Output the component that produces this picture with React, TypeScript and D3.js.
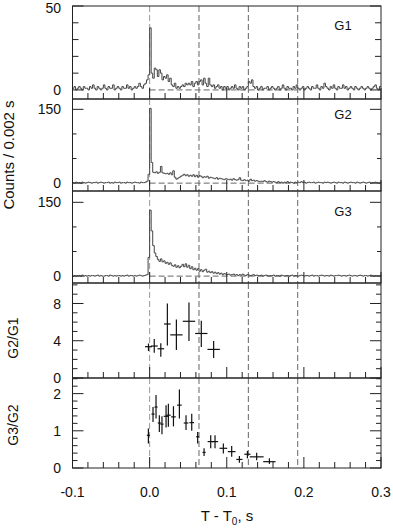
import React, { useEffect, useRef } from 'react';
import * as d3 from 'd3';

// histogram bins: 0.002 s wide, first bin starts at T - T0 = -0.1 s
const binStart = -0.1;
const binWidth = 0.002;

const g1Counts = [
  1, 2, 0, 1, 2, 1, 0, 2, 1, 1,
  0, 2, 1, 3, 1, 0, 2, 1, 0, 1,
  3, 1, 0, 2, 1, 1, 3, 0, 1, 2,
  1, 0, 2, 1, 1, 3, 1, 2, 0, 1,
  2, 1, 2, 4, 2, 1, 3, 4, 6, 9,
  37, 10, 7, 13, 12, 8, 12, 10, 6, 8,
  7, 9, 5, 7, 3, 2, 4, 1, 2, 1,
  2, 3, 2, 4, 3, 4, 3, 5, 2, 4,
  5, 3, 5, 6, 3, 7, 4, 2, 7, 3,
  2, 3, 1, 2, 3, 1, 2, 0, 2, 1,
  2, 0, 1, 2, 1, 3, 1, 0, 2, 1,
  2, 0, 1, 2, 5, 4, 6, 2, 1, 2,
  0, 1, 2, 0, 1, 1, 2, 0, 1, 2,
  1, 0, 1, 2, 0, 1, 3, 1, 0, 2,
  1, 1, 0, 2, 1, 3, 1, 0, 1, 2,
  0, 1, 2, 1, 0, 2, 1, 1, 3, 1,
  0, 2, 1, 4, 2, 1, 0, 2, 1, 3,
  1, 0, 2, 1, 1, 3, 1, 2, 0, 1,
  2, 1, 0, 2, 1, 0, 1, 2, 1, 0,
  1, 2, 1, 0, 1, 2, 3, 1, 0, 2,
];

const g2Counts = [
  1, 0, 2, 1, 1, 0, 2, 1, 0, 1,
  2, 1, 0, 1, 1, 2, 0, 1, 2, 1,
  0, 1, 1, 2, 0, 1, 0, 2, 1, 1,
  2, 0, 1, 1, 0, 2, 1, 1, 0, 1,
  2, 1, 1, 0, 2, 1, 1, 2, 4, 18,
  152, 42, 22, 21, 23, 20, 22, 34, 21, 20,
  19, 20, 18, 21, 17, 25, 12, 8, 10, 12,
  14, 16, 18, 15, 17, 14, 16, 14, 17, 13,
  16, 12, 15, 14, 11, 13, 12, 14, 10, 12,
  11, 10, 9, 11, 8, 10, 9, 8, 7, 9,
  8, 7, 8, 6, 9, 7, 6, 7, 11, 6,
  5, 7, 5, 6, 4, 8, 5, 6, 4, 5,
  4, 3, 4, 3, 5, 3, 2, 4, 3, 2,
  3, 2, 1, 3, 1, 2, 0, 2, 1, 3,
  1, 2, 1, 0, 2, 1, 2, 1, 3, 1,
  2, 0, 1, 2, 1, 1, 2, 0, 1, 2,
  1, 1, 0, 2, 1, 2, 1, 0, 1, 2,
  1, 0, 2, 1, 1, 0, 2, 1, 0, 1,
  2, 1, 1, 0, 2, 1, 0, 1, 2, 1,
  0, 1, 2, 0, 1, 1, 2, 1, 0, 1,
];

const g3Counts = [
  0, 1, 0, 1, 1, 0, 2, 0, 1, 0,
  1, 0, 1, 1, 0, 1, 2, 0, 1, 0,
  0, 1, 1, 0, 2, 1, 0, 1, 0, 1,
  1, 0, 1, 0, 1, 2, 0, 1, 1, 0,
  1, 0, 1, 2, 1, 0, 1, 2, 3, 38,
  134, 92, 62, 47, 40, 34, 30, 35, 29, 31,
  26, 28, 24, 27, 22, 20, 23, 18, 21, 17,
  20, 24, 19, 25, 18, 22, 15, 19, 13, 16,
  12, 15, 10, 13, 9, 12, 14, 8, 10, 7,
  9, 6, 8, 5, 7, 4, 6, 3, 5, 4,
  3, 4, 2, 3, 4, 2, 3, 1, 3, 2,
  4, 2, 1, 3, 2, 1, 2, 3, 1, 2,
  1, 1, 2, 0, 1, 2, 1, 0, 1, 1,
  2, 0, 1, 1, 0, 2, 1, 0, 1, 1,
  0, 1, 2, 0, 1, 1, 0, 1, 2, 1,
  0, 1, 1, 0, 1, 2, 0, 1, 1, 0,
  1, 2, 1, 0, 1, 1, 0, 2, 1, 0,
  1, 1, 2, 1, 0, 1, 1, 0, 1, 2,
  1, 0, 1, 1, 0, 1, 2, 1, 0, 1,
  1, 0, 1, 2, 1, 0, 1, 1, 0, 1,
];

// G2/G1 ratio points
const ratio21Time = [-0.0015, 0.006, 0.0145, 0.023, 0.0347, 0.051, 0.067, 0.083];
const ratio21HalfWidth = [0.0045, 0.0045, 0.0043, 0.0043, 0.008, 0.008, 0.008, 0.008];
const ratio21Value = [3.36, 3.43, 3.14, 5.8, 4.63, 6.09, 4.78, 3.07];
const ratio21Low = [2.9, 2.7, 2.27, 3.5, 3.0, 3.98, 3.33, 2.16];
const ratio21High = [3.7, 4.2, 3.73, 8.0, 6.27, 8.1, 6.16, 3.98];

// G3/G2 ratio points
const ratio32Time = [
  -0.0016, 0.0044, 0.0083, 0.0126, 0.016, 0.0213, 0.0243, 0.0309, 0.0386, 0.0472, 0.0546,
  0.0623, 0.0706, 0.0792, 0.0848, 0.0956, 0.1064, 0.1164, 0.1268, 0.1388, 0.1553,
];
const ratio32HalfWidth = [
  0.002, 0.002, 0.002, 0.002, 0.002, 0.003, 0.003, 0.003, 0.003, 0.003, 0.003,
  0.002, 0.002, 0.004, 0.004, 0.005, 0.005, 0.004, 0.004, 0.009, 0.008,
];
const ratio32Value = [
  0.88, 1.45, 1.64, 1.21, 1.18, 1.39, 1.42, 1.375, 1.69, 1.21, 1.22,
  0.84, 0.42, 0.71, 0.71, 0.53, 0.44, 0.23, 0.37, 0.3, 0.17,
];
const ratio32Low = [
  0.66, 1.24, 1.33, 0.97, 0.91, 1.09, 1.11, 1.12, 1.33, 1.02, 1.0,
  0.66, 0.32, 0.53, 0.53, 0.39, 0.3, 0.14, 0.26, 0.21, 0.11,
];
const ratio32High = [
  1.06, 1.64, 1.96, 1.42, 1.39, 1.69, 1.73, 1.66, 2.11, 1.42, 1.46,
  0.97, 0.53, 0.88, 0.88, 0.66, 0.59, 0.32, 0.46, 0.41, 0.26,
];

const markerTimes = [0, 0.064, 0.128, 0.192];
const xMajorTicks = [-0.1, 0, 0.1, 0.2, 0.3];
const xTickLabels = ['-0.1', '0.0', '0.1', '0.2', '0.3'];
const xMinorTicks = d3.range(-0.08, 0.3, 0.02);

const panelNames = ['G1', 'G2', 'G3', 'G2/G1', 'G3/G2'];
const panelDomains = [[-5.4, 50], [-16, 171], [-14, 173], [0, 10.2], [0, 2.42]];
const panelMajorTicks = [[0, 50], [0, 150], [0, 150], [0, 4, 8], [0, 1, 2]];
const panelMinorTicks = [
  [10, 20, 30, 40],
  [50, 100],
  [50, 100],
  [1, 2, 3, 5, 6, 7, 9, 10],
  [0.2, 0.4, 0.6, 0.8, 1.2, 1.4, 1.6, 1.8, 2.2, 2.4],
];

const W = 393;
const H = 531;
const plotLeft = 72.5;
const plotRight = 381;
const panelEdges = [6, 99, 191, 283, 378, 468];
const font = "'Liberation Sans', Arial, Helvetica, sans-serif";

export default function App() {
  const ref = useRef<SVGSVGElement | null>(null);

  useEffect(() => {
    const svg = d3.select(ref.current);
    svg.selectAll('*').remove();

    const x = d3.scaleLinear().domain([-0.1, 0.3]).range([plotLeft, plotRight]);

    const histograms = [g1Counts, g2Counts, g3Counts];
    const ratios = [
      null,
      null,
      null,
      { t: ratio21Time, hw: ratio21HalfWidth, v: ratio21Value, lo: ratio21Low, hi: ratio21High },
      { t: ratio32Time, hw: ratio32HalfWidth, v: ratio32Value, lo: ratio32Low, hi: ratio32High },
    ];

    panelNames.forEach((name, i) => {
      const top = panelEdges[i];
      const bottom = panelEdges[i + 1];
      const y = d3.scaleLinear().domain(panelDomains[i]).range([bottom, top]);
      const g = svg.append('g');

      const clipId = `panel-clip-${i}`;
      g.append('clipPath')
        .attr('id', clipId)
        .append('rect')
        .attr('x', plotLeft)
        .attr('y', top)
        .attr('width', plotRight - plotLeft)
        .attr('height', bottom - top);

      // dashed time markers
      g.selectAll('.marker')
        .data(markerTimes)
        .enter()
        .append('line')
        .attr('x1', (d) => x(d))
        .attr('x2', (d) => x(d))
        .attr('y1', top)
        .attr('y2', bottom)
        .attr('stroke', (d) => (d === 0 ? '#999' : '#666'))
        .attr('stroke-width', 1)
        .attr('stroke-dasharray', '6,3');

      if (i < 3) {
        const counts = histograms[i];
        g.append('line')
          .attr('x1', x(0))
          .attr('x2', x(0.192))
          .attr('y1', y(0))
          .attr('y2', y(0))
          .attr('stroke', '#666')
          .attr('stroke-dasharray', '6,3');

        const pts: [number, number][] = counts.map((c, k) => [binStart + k * binWidth, c]);
        pts.push([0.3, counts[counts.length - 1]]);
        const line = d3
          .line<[number, number]>()
          .x((d) => x(d[0]))
          .y((d) => y(d[1]))
          .curve(d3.curveStepAfter);

        g.append('path')
          .attr('d', line(pts))
          .attr('clip-path', `url(#${clipId})`)
          .attr('fill', 'none')
          .attr('stroke', '#444')
          .attr('stroke-width', 1);

        g.append('text')
          .attr('x', 343)
          .attr('y', top + (i === 0 ? 24 : i === 1 ? 20 : 25))
          .attr('text-anchor', 'middle')
          .style('font-family', font)
          .style('font-size', '13px')
          .attr('fill', '#111')
          .text(name);
      } else {
        const r = ratios[i]!;
        const idx = d3.range(r.t.length);
        g.selectAll('.vbar')
          .data(idx)
          .enter()
          .append('line')
          .attr('x1', (k) => x(r.t[k]))
          .attr('x2', (k) => x(r.t[k]))
          .attr('y1', (k) => y(r.lo[k]))
          .attr('y2', (k) => y(r.hi[k]))
          .attr('stroke', '#111')
          .attr('stroke-width', 1.2);
        g.selectAll('.hbar')
          .data(idx)
          .enter()
          .append('line')
          .attr('x1', (k) => x(r.t[k] - r.hw[k]))
          .attr('x2', (k) => x(r.t[k] + r.hw[k]))
          .attr('y1', (k) => y(r.v[k]))
          .attr('y2', (k) => y(r.v[k]))
          .attr('stroke', '#111')
          .attr('stroke-width', 1.2);

        g.append('text')
          .attr('transform', `translate(13,${i === 3 ? 338 : 425}) rotate(-90)`)
          .attr('text-anchor', 'middle')
          .attr('dominant-baseline', 'central')
          .style('font-family', font)
          .style('font-size', '14px')
          .attr('fill', '#111')
          .text(name);
      }

      // frame
      g.append('rect')
        .attr('x', plotLeft)
        .attr('y', top)
        .attr('width', plotRight - plotLeft)
        .attr('height', bottom - top)
        .attr('fill', 'none')
        .attr('stroke', '#222')
        .attr('stroke-width', 1);

      // x ticks along the bottom, pointing in
      g.selectAll('.xminor')
        .data(xMinorTicks.filter((t) => Math.abs(t * 10 - Math.round(t * 10)) > 1e-6))
        .enter()
        .append('line')
        .attr('x1', (d) => x(d))
        .attr('x2', (d) => x(d))
        .attr('y1', bottom)
        .attr('y2', bottom - 6)
        .attr('stroke', '#222');
      g.selectAll('.xmajor')
        .data(xMajorTicks)
        .enter()
        .append('line')
        .attr('x1', (d) => x(d))
        .attr('x2', (d) => x(d))
        .attr('y1', bottom)
        .attr('y2', bottom - 11)
        .attr('stroke', '#222');

      // y ticks on both sides
      const minorLen = i === 0 ? 6 : i < 3 ? 4 : 5;
      [plotLeft, plotRight].forEach((edge, side) => {
        const dir = side === 0 ? 1 : -1;
        g.selectAll(`.yminor${side}`)
          .data(panelMinorTicks[i])
          .enter()
          .append('line')
          .attr('x1', edge)
          .attr('x2', edge + dir * minorLen)
          .attr('y1', (d) => y(d))
          .attr('y2', (d) => y(d))
          .attr('stroke', '#222');
        g.selectAll(`.ymajor${side}`)
          .data(panelMajorTicks[i])
          .enter()
          .append('line')
          .attr('x1', edge)
          .attr('x2', edge + dir * 11)
          .attr('y1', (d) => y(d))
          .attr('y2', (d) => y(d))
          .attr('stroke', '#222');
      });

      g.selectAll('.ylabel')
        .data(panelMajorTicks[i])
        .enter()
        .append('text')
        .attr('x', 61)
        .attr('y', (d) => Math.max(y(d), 7.5))
        .attr('dy', '0.36em')
        .attr('text-anchor', 'end')
        .style('font-family', font)
        .style('font-size', '14px')
        .attr('fill', '#111')
        .text((d) => String(d));

      if (i === 4) {
        g.selectAll('.xlabel')
          .data(xMajorTicks)
          .enter()
          .append('text')
          .attr('x', (d) => x(d))
          .attr('y', 497)
          .attr('text-anchor', 'middle')
          .style('font-family', font)
          .style('font-size', '14px')
          .attr('fill', '#111')
          .text((d, k) => xTickLabels[k]);
      }
    });

    svg
      .append('text')
      .attr('transform', 'translate(8,155) rotate(-90)')
      .attr('text-anchor', 'middle')
      .attr('dominant-baseline', 'central')
      .style('font-family', font)
      .style('font-size', '15px')
      .attr('fill', '#111')
      .text('Counts / 0.002 s');

    const xTitle = svg
      .append('text')
      .attr('x', 227)
      .attr('y', 521)
      .attr('text-anchor', 'middle')
      .style('font-family', font)
      .style('font-size', '15px')
      .attr('fill', '#111');
    xTitle.append('tspan').text('T - T');
    xTitle.append('tspan').attr('dy', 4).style('font-size', '10px').text('0');
    xTitle.append('tspan').attr('dy', -4).text(', s');
  }, []);

  return (
    <svg
      ref={ref}
      width={W}
      height={H}
      style={{ position: 'absolute', left: 0, top: 0, background: '#fff' }}
    />
  );
}
